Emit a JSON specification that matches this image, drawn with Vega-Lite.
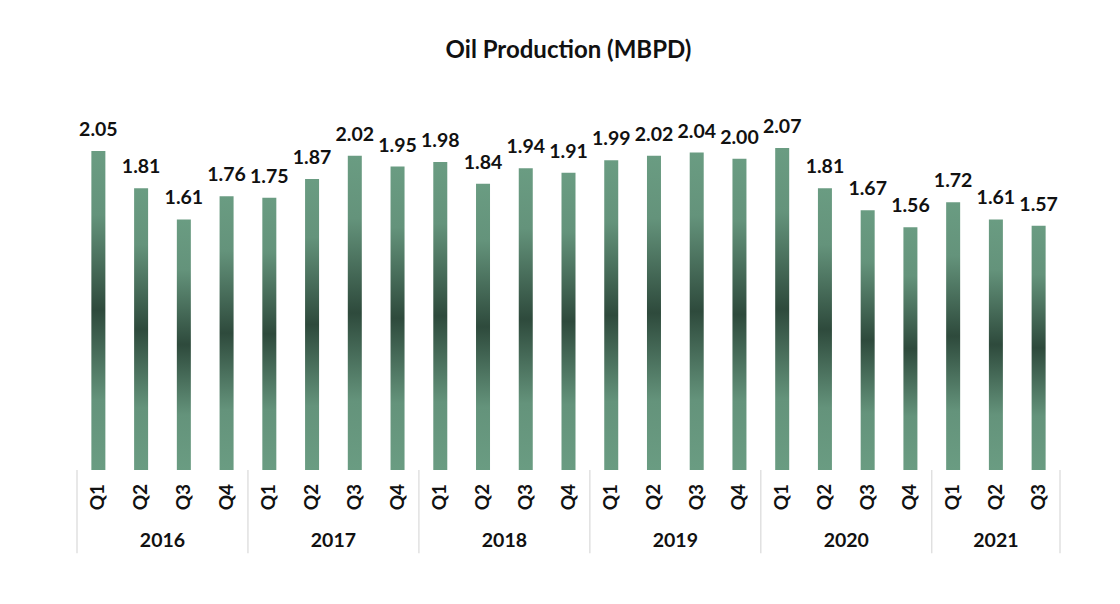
{
  "$schema": "https://vega.github.io/schema/vega-lite/v6.json",
  "autosize": "none",
  "padding": {"left": 72, "top": 81, "right": 55, "bottom": 134},
  "width": 993,
  "height": 389,
  "background": "white",
  "title": {"text": "Oil Production (MBPD)", "font": "Lato", "fontSize": 24, "fontWeight": "bold", "color": "#111", "anchor": "middle", "offset": 18},
  "config": {"view": {"stroke": null}},
  "datasets": {
    "oil": [
      {"idx": 0, "year": "2016", "q": "Q1", "mbpd": 2.05},
      {"idx": 1, "year": "2016", "q": "Q2", "mbpd": 1.81},
      {"idx": 2, "year": "2016", "q": "Q3", "mbpd": 1.61},
      {"idx": 3, "year": "2016", "q": "Q4", "mbpd": 1.76},
      {"idx": 4, "year": "2017", "q": "Q1", "mbpd": 1.75},
      {"idx": 5, "year": "2017", "q": "Q2", "mbpd": 1.87},
      {"idx": 6, "year": "2017", "q": "Q3", "mbpd": 2.02},
      {"idx": 7, "year": "2017", "q": "Q4", "mbpd": 1.95},
      {"idx": 8, "year": "2018", "q": "Q1", "mbpd": 1.98},
      {"idx": 9, "year": "2018", "q": "Q2", "mbpd": 1.84},
      {"idx": 10, "year": "2018", "q": "Q3", "mbpd": 1.94},
      {"idx": 11, "year": "2018", "q": "Q4", "mbpd": 1.91},
      {"idx": 12, "year": "2019", "q": "Q1", "mbpd": 1.99},
      {"idx": 13, "year": "2019", "q": "Q2", "mbpd": 2.02},
      {"idx": 14, "year": "2019", "q": "Q3", "mbpd": 2.04},
      {"idx": 15, "year": "2019", "q": "Q4", "mbpd": 2.00},
      {"idx": 16, "year": "2020", "q": "Q1", "mbpd": 2.07},
      {"idx": 17, "year": "2020", "q": "Q2", "mbpd": 1.81},
      {"idx": 18, "year": "2020", "q": "Q3", "mbpd": 1.67},
      {"idx": 19, "year": "2020", "q": "Q4", "mbpd": 1.56},
      {"idx": 20, "year": "2021", "q": "Q1", "mbpd": 1.72},
      {"idx": 21, "year": "2021", "q": "Q2", "mbpd": 1.61},
      {"idx": 22, "year": "2021", "q": "Q3", "mbpd": 1.57}
    ],
    "separators": [
      {"pos": -0.5}, {"pos": 3.5}, {"pos": 7.5}, {"pos": 11.5},
      {"pos": 15.5}, {"pos": 19.5}, {"pos": 22.5}
    ]
  },
  "layer": [
    {
      "data": {"name": "separators"},
      "mark": {"type": "rule", "color": "#d9d9d9", "strokeWidth": 1.2},
      "encoding": {
        "x": {"field": "pos", "type": "quantitative", "scale": {"domain": [-0.5, 22.5], "nice": false, "zero": false}, "axis": null},
        "y": {"datum": 0, "scale": {"domain": [0, 2.5], "nice": false}, "axis": null},
        "y2": {"datum": -0.535}
      }
    },
    {
      "data": {"name": "oil"},
      "mark": {
        "type": "bar",
        "width": 14,
        "color": {
          "gradient": "linear", "x1": 0, "y1": 0, "x2": 0, "y2": 1,
          "stops": [
            {"offset": 0, "color": "#6a9c82"},
            {"offset": 0.2, "color": "#64937b"},
            {"offset": 0.5, "color": "#2e4a3c"},
            {"offset": 0.78, "color": "#64937b"},
            {"offset": 1, "color": "#6a9c82"}
          ]
        }
      },
      "encoding": {
        "x": {"field": "idx", "type": "quantitative", "scale": {"domain": [-0.5, 22.5], "nice": false, "zero": false},
              "axis": {"labels": false, "ticks": false, "grid": false, "title": null, "domainColor": "#d9d9d9", "domainWidth": 1.2}},
        "y": {"field": "mbpd", "type": "quantitative", "scale": {"domain": [0, 2.5], "nice": false}, "axis": null}
      }
    },
    {
      "data": {"name": "oil"},
      "mark": {"type": "text", "font": "Lato", "fontSize": 19.5, "fontWeight": "bold", "color": "#111", "baseline": "alphabetic", "dy": -15},
      "encoding": {
        "x": {"field": "idx", "type": "quantitative"},
        "y": {"field": "mbpd", "type": "quantitative"},
        "text": {"field": "mbpd", "type": "quantitative", "format": ".2f"}
      }
    },
    {
      "data": {"name": "oil"},
      "mark": {"type": "text", "font": "Lato", "fontSize": 19, "fontWeight": "bold", "color": "#111", "angle": 270, "align": "center", "baseline": "middle"},
      "encoding": {
        "x": {"field": "idx", "type": "quantitative"},
        "y": {"datum": -0.174},
        "text": {"field": "q"}
      }
    },
    {
      "data": {"name": "oil"},
      "mark": {"type": "text", "font": "Lato", "fontSize": 19.5, "fontWeight": "bold", "color": "#111", "align": "center", "baseline": "middle"},
      "encoding": {
        "x": {"aggregate": "mean", "field": "idx", "type": "quantitative"},
        "y": {"datum": -0.456},
        "text": {"field": "year"}
      }
    }
  ]
}
